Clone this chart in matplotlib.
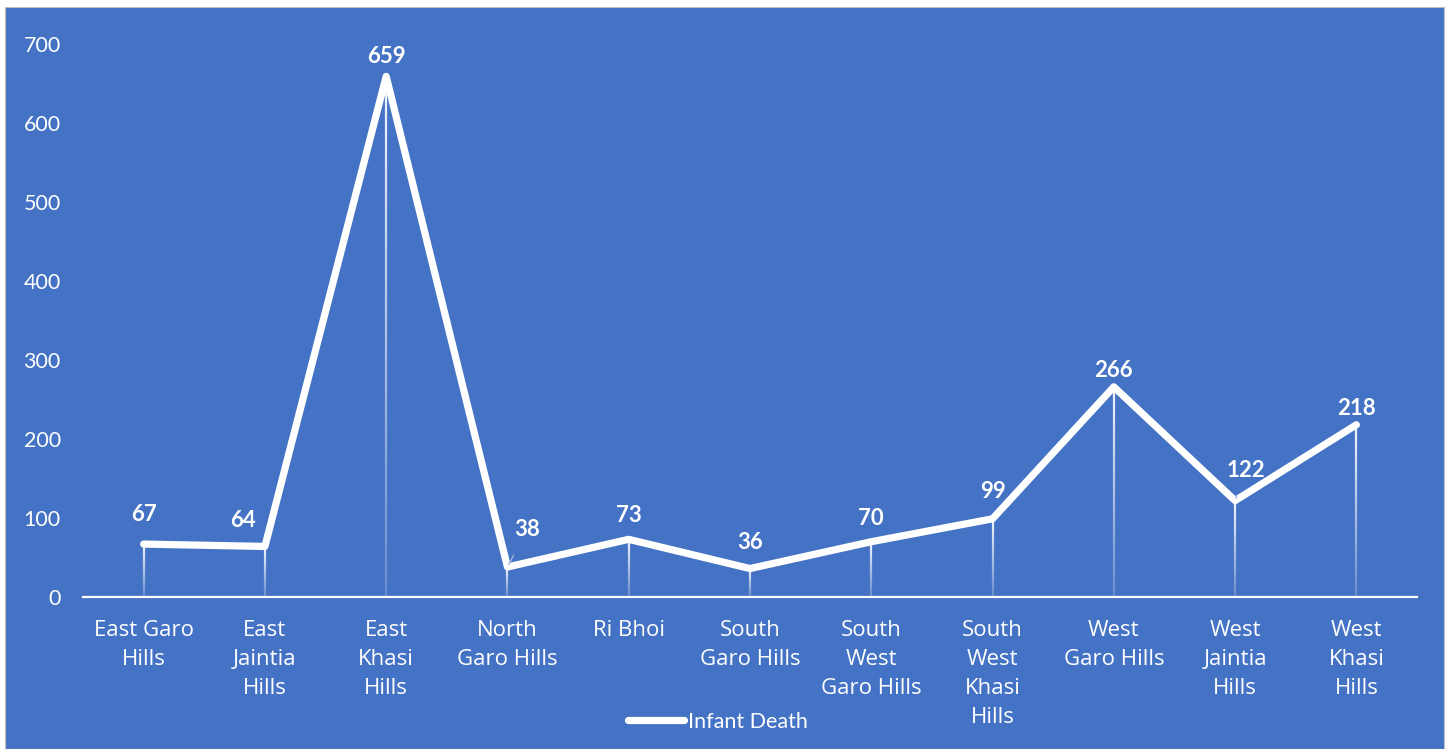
import matplotlib.pyplot as plt
import numpy as np
from matplotlib.patches import Rectangle
from matplotlib.collections import LineCollection

# data
districts = ['East Garo\nHills', 'East\nJaintia\nHills', 'East\nKhasi\nHills',
             'North\nGaro Hills', 'Ri Bhoi', 'South\nGaro Hills',
             'South\nWest\nGaro Hills', 'South\nWest\nKhasi\nHills',
             'West\nGaro Hills', 'West\nJaintia\nHills', 'West\nKhasi\nHills']
infant_death = [67, 64, 659, 38, 73, 36, 70, 99, 266, 122, 218]
yticks = [0, 100, 200, 300, 400, 500, 600, 700]

# label offsets from the point (points), as the labels sit in the picture
lab_dx = [0, -16, 0, 14, 0, 0, 0, 0, 0, 8, 0]
lab_dy = [21, 19, 14, 27, 17, 19, 17, 20, 12, 22, 12]
leader = [False, False, False, True, False, False, False, False, False, True, False]

blue = '#4472C4'
plt.rcParams['font.family'] = ['Lato', 'DejaVu Sans']

fig = plt.figure(figsize=(14.54, 7.49), dpi=100, facecolor='white')
# blue chart area
fig.patches.append(Rectangle((5/1454, 0), 1439/1454, 1 - 7/749,
                             transform=fig.transFigure, facecolor=blue,
                             edgecolor='#BFBFBF', lw=0.8, zorder=-10))

ax = fig.add_axes([83/1454, 1 - 597/749, (1417 - 83)/1454, (597 - 44)/749])
ax.set_facecolor('none')

x = np.arange(len(districts))

# drop lines, fading towards the axis
segs, cols = [], []
n = 40
for xi, v in zip(x, infant_death):
    ys = np.linspace(0, v, n + 1)
    for k in range(n):
        segs.append([(xi, ys[k]), (xi, ys[k + 1])])
        a = 0.2 + 0.75 * (k / n)
        cols.append((1, 1, 1, a))
ax.add_collection(LineCollection(segs, colors=cols, linewidths=1.6, zorder=2))

ax.plot(x, infant_death, color='white', lw=5.2, solid_joinstyle='round',
        solid_capstyle='round', zorder=3, label='Infant Death')

# data labels
for xi, v, dx, dy, ld in zip(x, infant_death, lab_dx, lab_dy, leader):
    arrow = None
    if ld:
        arrow = dict(arrowstyle='-', color='#9DB4E0', lw=1, shrinkA=10, shrinkB=2)
    ax.annotate(str(v), (xi, v), xytext=(dx, dy), textcoords='offset points',
                ha='center', va='center', color='white', fontsize=16,
                fontweight='bold', arrowprops=arrow, zorder=5)

ax.set_xlim(-0.5, len(districts) - 0.5)
ax.set_ylim(0, 700)
ax.set_yticks(yticks)
ax.set_xticks(x)
ax.set_xticklabels(districts, linespacing=1.5, fontfamily='Open Sans')
ax.tick_params(axis='y', length=0, pad=16, labelsize=15.5, labelcolor='white')
ax.tick_params(axis='x', length=0, pad=16.5, labelsize=16, labelcolor='white')

for s in ['top', 'right', 'left']:
    ax.spines[s].set_visible(False)
ax.spines['bottom'].set_color('white')
ax.spines['bottom'].set_linewidth(1.6)

leg = fig.legend(loc='center', bbox_to_anchor=(718/1454, 1 - 722/749),
                 frameon=False, fontsize=15.5, handlelength=2.6, handletextpad=0.15,
                 labelcolor='white')

fig.savefig('out.png', dpi=100, facecolor='white')
